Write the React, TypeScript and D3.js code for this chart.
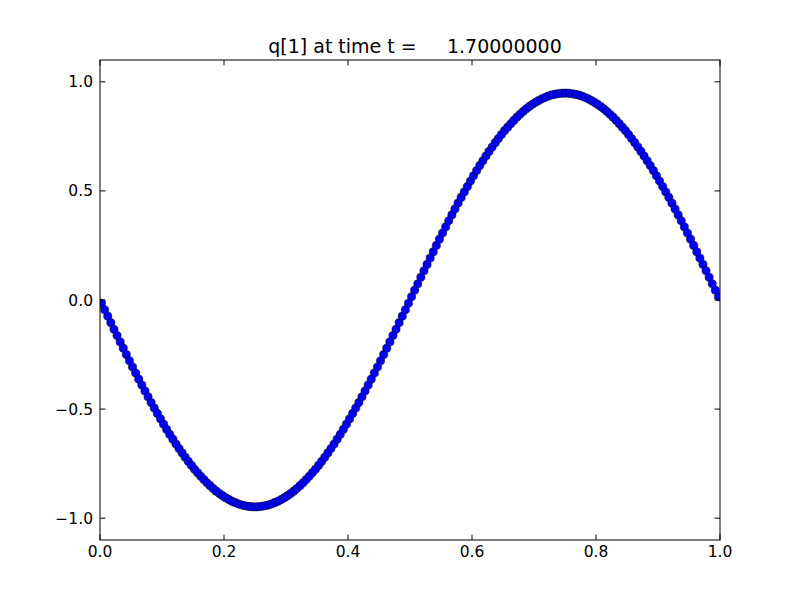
import React from "react";
import * as d3 from "d3";

const xValues: number[] = [
  0.0025, 0.0075, 0.0125, 0.0175, 0.0225, 0.0275, 0.0325, 0.0375, 0.0425, 0.0475,
  0.0525, 0.0575, 0.0625, 0.0675, 0.0725, 0.0775, 0.0825, 0.0875, 0.0925, 0.0975,
  0.1025, 0.1075, 0.1125, 0.1175, 0.1225, 0.1275, 0.1325, 0.1375, 0.1425, 0.1475,
  0.1525, 0.1575, 0.1625, 0.1675, 0.1725, 0.1775, 0.1825, 0.1875, 0.1925, 0.1975,
  0.2025, 0.2075, 0.2125, 0.2175, 0.2225, 0.2275, 0.2325, 0.2375, 0.2425, 0.2475,
  0.2525, 0.2575, 0.2625, 0.2675, 0.2725, 0.2775, 0.2825, 0.2875, 0.2925, 0.2975,
  0.3025, 0.3075, 0.3125, 0.3175, 0.3225, 0.3275, 0.3325, 0.3375, 0.3425, 0.3475,
  0.3525, 0.3575, 0.3625, 0.3675, 0.3725, 0.3775, 0.3825, 0.3875, 0.3925, 0.3975,
  0.4025, 0.4075, 0.4125, 0.4175, 0.4225, 0.4275, 0.4325, 0.4375, 0.4425, 0.4475,
  0.4525, 0.4575, 0.4625, 0.4675, 0.4725, 0.4775, 0.4825, 0.4875, 0.4925, 0.4975,
  0.5025, 0.5075, 0.5125, 0.5175, 0.5225, 0.5275, 0.5325, 0.5375, 0.5425, 0.5475,
  0.5525, 0.5575, 0.5625, 0.5675, 0.5725, 0.5775, 0.5825, 0.5875, 0.5925, 0.5975,
  0.6025, 0.6075, 0.6125, 0.6175, 0.6225, 0.6275, 0.6325, 0.6375, 0.6425, 0.6475,
  0.6525, 0.6575, 0.6625, 0.6675, 0.6725, 0.6775, 0.6825, 0.6875, 0.6925, 0.6975,
  0.7025, 0.7075, 0.7125, 0.7175, 0.7225, 0.7275, 0.7325, 0.7375, 0.7425, 0.7475,
  0.7525, 0.7575, 0.7625, 0.7675, 0.7725, 0.7775, 0.7825, 0.7875, 0.7925, 0.7975,
  0.8025, 0.8075, 0.8125, 0.8175, 0.8225, 0.8275, 0.8325, 0.8375, 0.8425, 0.8475,
  0.8525, 0.8575, 0.8625, 0.8675, 0.8725, 0.8775, 0.8825, 0.8875, 0.8925, 0.8975,
  0.9025, 0.9075, 0.9125, 0.9175, 0.9225, 0.9275, 0.9325, 0.9375, 0.9425, 0.9475,
  0.9525, 0.9575, 0.9625, 0.9675, 0.9725, 0.9775, 0.9825, 0.9875, 0.9925, 0.9975,
];

const qValues: number[] = [
  -0.015, -0.045, -0.074, -0.104, -0.134, -0.163, -0.192, -0.221, -0.250, -0.279,
  -0.307, -0.335, -0.363, -0.390, -0.417, -0.444, -0.470, -0.495, -0.520, -0.545,
  -0.569, -0.593, -0.616, -0.638, -0.660, -0.681, -0.701, -0.721, -0.740, -0.758,
  -0.776, -0.792, -0.808, -0.823, -0.838, -0.851, -0.864, -0.876, -0.887, -0.897,
  -0.906, -0.914, -0.922, -0.928, -0.934, -0.939, -0.942, -0.945, -0.947, -0.948,
  -0.948, -0.947, -0.945, -0.942, -0.939, -0.934, -0.928, -0.922, -0.914, -0.906,
  -0.897, -0.887, -0.876, -0.864, -0.851, -0.838, -0.823, -0.808, -0.792, -0.776,
  -0.758, -0.740, -0.721, -0.701, -0.681, -0.660, -0.638, -0.616, -0.593, -0.569,
  -0.545, -0.520, -0.495, -0.470, -0.444, -0.417, -0.390, -0.363, -0.335, -0.307,
  -0.279, -0.250, -0.221, -0.192, -0.163, -0.134, -0.104, -0.074, -0.045, -0.015,
  0.015, 0.045, 0.074, 0.104, 0.134, 0.163, 0.192, 0.221, 0.250, 0.279,
  0.307, 0.335, 0.363, 0.390, 0.417, 0.444, 0.470, 0.495, 0.520, 0.545,
  0.569, 0.593, 0.616, 0.638, 0.660, 0.681, 0.701, 0.721, 0.740, 0.758,
  0.776, 0.792, 0.808, 0.823, 0.838, 0.851, 0.864, 0.876, 0.887, 0.897,
  0.906, 0.914, 0.922, 0.928, 0.934, 0.939, 0.942, 0.945, 0.947, 0.948,
  0.948, 0.947, 0.945, 0.942, 0.939, 0.934, 0.928, 0.922, 0.914, 0.906,
  0.897, 0.887, 0.876, 0.864, 0.851, 0.838, 0.823, 0.808, 0.792, 0.776,
  0.758, 0.740, 0.721, 0.701, 0.681, 0.660, 0.638, 0.616, 0.593, 0.569,
  0.545, 0.520, 0.495, 0.470, 0.444, 0.417, 0.390, 0.363, 0.335, 0.307,
  0.279, 0.250, 0.221, 0.192, 0.163, 0.134, 0.104, 0.074, 0.045, 0.015,
];

const xTicks: number[] = [0, 0.2, 0.4, 0.6, 0.8, 1.0];
const yTicks: number[] = [-1.0, -0.5, 0.0, 0.5, 1.0];
const titleText = "q[1] at time t =     1.70000000";

const W = 800;
const H = 600;
const left = 100;
const right = 720;
const top = 60;
const bottom = 540;

const fmt = (v: number) => {
  const s = Math.abs(v).toFixed(1);
  return v < 0 ? "\u2212" + s : s;
};

export default function App() {
  const x = d3.scaleLinear().domain([0, 1]).range([left, right]);
  const y = d3.scaleLinear().domain([-1.1, 1.1]).range([bottom, top]);
  const tick = 5.5;
  const font = "DejaVu Sans, sans-serif";
  return (
    <svg
      width={W}
      height={H}
      style={{ position: "absolute", left: 0, top: 0, background: "#fff" }}
    >
      <rect x={0} y={0} width={W} height={H} fill="#ffffff" />
      <defs>
        <clipPath id="plotclip">
          <rect x={left} y={top} width={right - left} height={bottom - top} />
        </clipPath>
      </defs>
      <g clipPath="url(#plotclip)">
        {qValues.map((q, i) => (
          <circle
            key={i}
            cx={x(xValues[i])}
            cy={y(q)}
            r={4.1}
            fill="#0000ff"
            stroke="#000"
            strokeWidth={0.5}
          />
        ))}
      </g>
      <rect
        x={left}
        y={top}
        width={right - left}
        height={bottom - top}
        fill="none"
        stroke="#000"
        strokeWidth={1}
      />
      {xTicks.map((t) => (
        <g key={"x" + t}>
          <line x1={x(t)} x2={x(t)} y1={bottom} y2={bottom - tick} stroke="#000" />
          <line x1={x(t)} x2={x(t)} y1={top} y2={top + tick} stroke="#000" />
          <text
            x={x(t)}
            y={bottom + 17}
            textAnchor="middle"
            fontFamily={font}
            fontSize={15.5}
          >
            {fmt(t)}
          </text>
        </g>
      ))}
      {yTicks.map((t) => (
        <g key={"y" + t}>
          <line x1={left} x2={left + tick} y1={y(t)} y2={y(t)} stroke="#000" />
          <line x1={right} x2={right - tick} y1={y(t)} y2={y(t)} stroke="#000" />
          <text
            x={left - 7}
            y={y(t)}
            dy="0.36em"
            textAnchor="end"
            fontFamily={font}
            fontSize={15.5}
          >
            {fmt(t)}
          </text>
        </g>
      ))}
      <text
        x={(left + right) / 2 + 5}
        y={top - 7}
        textAnchor="middle"
        fontFamily={font}
        fontSize={19}
        style={{ whiteSpace: "pre" }}
      >
        {titleText}
      </text>
    </svg>
  );
}
